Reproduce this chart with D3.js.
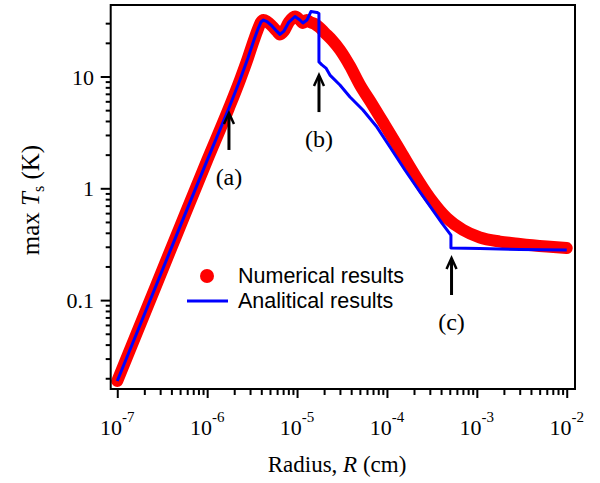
<!DOCTYPE html>
<html><head><meta charset="utf-8">
<script src="https://cdn.jsdelivr.net/npm/d3@7"></script>
<style>body{margin:0;background:#fff}svg{display:block}</style>
</head><body>
<script>
// Numerical results (red dots)
const numR = [1e-7,2e-7,5e-7,1e-6,1.748e-6,2.316e-6,2.843e-6,3.316e-6,3.674e-6,3.967e-6,4.229e-6,4.63e-6,5.26e-6,5.98e-6,6.45e-6,7.15e-6,8.12e-6,9.48e-6,1.077e-5,1.163e-5,1.288e-5,1.391e-5,1.581e-5,1.752e-5,2.043e-5,2.445e-5,3.0e-5,3.88e-5,5.01e-5,6.81e-5,9.03e-5,1.292e-4,1.946e-4,3.01e-4,4.65e-4,7.0e-4,1.082e-3,1.806e-3,3.015e-3,6.02e-3,1e-2];
const numT = [0.0189,0.0744,0.456,1.78,5.23,9.30,14.64,21.2,26.6,30.7,32.0,31.0,28.3,25.3,23.8,25.5,30.7,34.4,32.0,30.1,32.0,30.7,29.5,27.7,24.5,21.2,17.3,12.4,8.39,5.68,3.92,2.44,1.40,0.819,0.542,0.424,0.363,0.334,0.318,0.3015,0.292];
// Analytical results (blue line)
const anaR = [1e-7,2e-7,5e-7,1e-6,1.748e-6,2.316e-6,2.843e-6,3.316e-6,3.674e-6,3.967e-6,4.229e-6,4.63e-6,5.26e-6,5.98e-6,6.45e-6,7.15e-6,8.12e-6,9.48e-6,1.077e-5,1.163e-5,1.288e-5,1.427e-5,1.665e-5,1.752e-5,1.752e-5,1.892e-5,2.097e-5,2.323e-5,3.0e-5,3.88e-5,5.41e-5,7.74e-5,1.08e-4,1.585e-4,2.33e-4,4.09e-4,5.15e-4,5.15e-4,1.082e-3,3.015e-3,1e-2];
const anaT = [0.0189,0.0744,0.456,1.78,5.23,9.30,14.64,21.2,26.6,30.7,32.0,31.0,28.3,25.3,23.8,25.5,30.7,34.4,32.0,30.1,32.0,38.1,37.4,36.6,13.5,12.7,11.9,10.3,8.39,6.56,5.02,3.53,2.34,1.458,0.927,0.489,0.382,0.292,0.289,0.2836,0.281];
// Tick values
const xMajor = [1e-7,1e-6,1e-5,1e-4,1e-3,1e-2];
const xExp = ["-7","-6","-5","-4","-3","-2"];
const yMajor = [0.1,1,10];
const yLabels = ["0.1","1","10"];
const legendLabels = ["Numerical results","Analitical results"];
const annotations = [{label:"(a)", R:1.748e-6, T:4.72},{label:"(b)", R:1.754e-5, T:10.3},{label:"(c)", R:5.23e-4, T:0.238}];

const W=600,H=483;
const L=110.7,Rt=575,T=5,B=389;
const svg=d3.select("body").append("svg").attr("width",W).attr("height",H);
const x=d3.scaleLog().domain([Math.pow(10,-7.073),Math.pow(10,-1.908)]).range([L,Rt]);
const y=d3.scaleLog().domain([Math.pow(10,-1.795),Math.pow(10,1.6395)]).range([B,T]);

const serif="'Liberation Serif','Times New Roman',serif";
const sans="'Liberation Sans',Arial,Helvetica,sans-serif";

// minor ticks
const xMinor=[];
for(let e=-7;e<=-3;e++)for(let k=2;k<=9;k++)xMinor.push(k*Math.pow(10,e));
const yMinor=[];
for(let e=-2;e<=1;e++)for(let k=2;k<=9;k++){const v=k*Math.pow(10,e);if(v<=30&&v>=0.02)yMinor.push(v);}

const gx=svg.append("g").attr("transform",`translate(0,${B})`);
gx.call(d3.axisBottom(x).tickValues(xMinor).tickSize(6).tickFormat(""));
gx.append("g").call(d3.axisBottom(x).tickValues(xMajor).tickSize(9).tickFormat(""));
gx.selectAll(".domain").remove();
gx.selectAll("line").attr("stroke","#000").attr("stroke-width",2);

const gy=svg.append("g").attr("transform",`translate(${L},0)`);
gy.call(d3.axisLeft(y).tickValues(yMinor).tickSize(5).tickFormat(""));
gy.append("g").call(d3.axisLeft(y).tickValues(yMajor).tickSize(10).tickFormat(""));
gy.selectAll(".domain").remove();
gy.selectAll("line").attr("stroke","#000").attr("stroke-width",2);

// tick labels
xMajor.forEach((v,i)=>{
  const t=svg.append("text").attr("x",x(v)).attr("y",435).attr("text-anchor","middle")
    .attr("font-family",serif).attr("font-size",22).attr("fill","#000");
  t.append("tspan").text("10");
  t.append("tspan").attr("dy",-13).attr("font-size",15).text(xExp[i]);
});
yMajor.forEach((v,i)=>{
  svg.append("text").attr("x",94).attr("y",y(v)+8).attr("text-anchor","end")
    .attr("font-family",serif).attr("font-size",22).attr("fill","#000").text(yLabels[i]);
});

// axis titles
const xt=svg.append("text").attr("x",337).attr("y",472).attr("text-anchor","middle")
  .attr("font-family",serif).attr("font-size",23).attr("fill","#000");
xt.append("tspan").text("Radius, ");
xt.append("tspan").attr("font-style","italic").text("R");
xt.append("tspan").text(" (cm)");

const yt=svg.append("text").attr("transform","translate(39,200) rotate(-90)").attr("text-anchor","middle")
  .attr("font-family",serif).attr("font-size",25).attr("fill","#000");
yt.append("tspan").text("max ");
yt.append("tspan").attr("font-style","italic").text("T");
yt.append("tspan").attr("font-size",16).attr("dy",5).text("s");
yt.append("tspan").attr("dy",-5).text(" (K)");

// data
const num=numR.map((r,i)=>[r,numT[i]]);
const ana=anaR.map((r,i)=>[r,anaT[i]]);
svg.append("path").datum(num)
  .attr("d",d3.line().x(d=>x(d[0])).y(d=>y(d[1])).curve(d3.curveMonotoneX))
  .attr("fill","none").attr("stroke","#ff0000").attr("stroke-width",12)
  .attr("stroke-linecap","round").attr("stroke-linejoin","round");
svg.append("path").datum(ana)
  .attr("d",d3.line().x(d=>x(d[0])).y(d=>y(d[1])))
  .attr("fill","none").attr("stroke","#0000ff").attr("stroke-width",3)
  .attr("stroke-linejoin","round");

// frame
svg.append("rect").attr("x",L).attr("y",T).attr("width",Rt-L).attr("height",B-T)
  .attr("fill","none").attr("stroke","#000").attr("stroke-width",2);

// arrows
annotations.forEach(a=>{
  const ax=x(a.R), tip=y(a.T);
  const g=svg.append("g");
  g.append("line").attr("x1",ax).attr("x2",ax).attr("y1",tip+2).attr("y2",tip+37)
    .attr("stroke","#000").attr("stroke-width",3);
  g.append("path").attr("d",`M${ax-5},${tip+11}L${ax},${tip}L${ax+5},${tip+11}`)
    .attr("fill","none").attr("stroke","#000").attr("stroke-width",2.5);
  g.append("text").attr("x",ax).attr("y",tip+72).attr("text-anchor","middle")
    .attr("font-family",serif).attr("font-size",24).attr("fill","#000").text(a.label);
});

// legend
const lg=svg.append("g");
lg.append("circle").attr("cx",207).attr("cy",276).attr("r",7).attr("fill","#ff0000");
lg.append("line").attr("x1",187).attr("x2",228).attr("y1",301).attr("y2",301).attr("stroke","#0000ff").attr("stroke-width",3);
legendLabels.forEach((s,i)=>{
  lg.append("text").attr("x",238).attr("y",283+i*25).attr("font-family",sans).attr("font-size",21.5)
    .attr("fill","#000").text(s);
});
</script>
</body></html>
